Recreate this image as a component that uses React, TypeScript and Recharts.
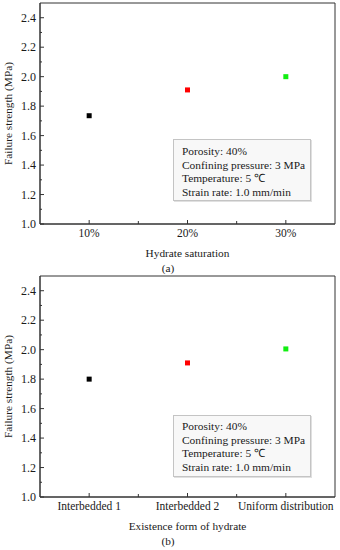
import { ScatterChart, Scatter, XAxis, YAxis, Cell, ReferenceArea } from "recharts"

// chart (a): failure strength vs hydrate saturation
const saturation = ["10%", "20%", "30%"]
const strengthBySaturation = [1.735, 1.91, 2.0]

// chart (b): failure strength vs existence form of hydrate
const forms = ["Interbedded 1", "Interbedded 2", "Uniform distribution"]
const strengthByForm = [1.8, 1.91, 2.005]

const pointColors = ["#000000", "#ff0000", "#11ee11"]
const yTicks = [1.0, 1.1, 1.2, 1.3, 1.4, 1.5, 1.6, 1.7, 1.8, 1.9, 2.0, 2.1, 2.2, 2.3, 2.4]
const xTicks = [1, 1.5, 2, 2.5, 3]
const conditions = ["Porosity: 40%", "Confining pressure: 3 MPa", "Temperature: 5 \u2103", "Strain rate: 1.0 mm/min"]

const AXIS = "#333"
const TEXT = "#1a1a1a"
const FONT = "'Liberation Serif', 'Times New Roman', serif"

function YTick({ x, y, payload }: any) {
  const v = payload.value as number
  const major = Math.round(v * 10) % 2 === 0
  return (
    <g>
      <line x1={x} x2={x + (major ? 4 : 2)} y1={y} y2={y} stroke={AXIS} />
      {major && (
        <text x={x - 4} y={y} dy="0.35em" textAnchor="end" fontSize={12} fill={TEXT} fontFamily={FONT}>
          {v.toFixed(1)}
        </text>
      )}
    </g>
  )
}

function makeXTick(labels: string[]) {
  return ({ x, y, payload }: any) => {
    const v = payload.value as number
    const major = Number.isInteger(v)
    return (
      <g>
        <line x1={x} x2={x} y1={y} y2={y - (major ? 4 : 3)} stroke={AXIS} />
        {major && (
          <text x={x} y={y + 13} textAnchor="middle" fontSize={11.5} fill={TEXT} fontFamily={FONT}>
            {labels[v - 1]}
          </text>
        )}
      </g>
    )
  }
}

function Square({ cx, cy, fill }: any) {
  return <rect x={cx - 2.5} y={cy - 2.5} width={5} height={5} fill={fill} />
}

function Panel({ labels, values, title, tag, top }: { labels: string[]; values: number[]; title: string; tag: string; top: number }) {
  const data = values.map((v, i) => ({ x: i + 1, y: v }))
  return (
    <div style={{ position: "absolute", left: 0, top, width: 340, height: 275 }}>
      <ScatterChart width={340} height={275} margin={{ top: top ? 1 : 3, right: 5, left: 0, bottom: 0 }}>
        <XAxis
          type="number"
          dataKey="x"
          domain={[0.5, 3.5]}
          ticks={xTicks}
          interval={0}
          height={top ? 53 : 51}
          axisLine={{ stroke: AXIS }}
          tickLine={false}
          tickSize={0}
          tickMargin={0}
          tick={makeXTick(labels)}
          label={({ viewBox }: any) => (
            <g fontFamily={FONT} fontSize={11.3} fill={TEXT}>
              <text x={viewBox.x + viewBox.width / 2} y={viewBox.y + 33} textAnchor="middle">{title}</text>
              <text x={168} y={viewBox.y + 48} textAnchor="middle">{tag}</text>
            </g>
          )}
        />
        <YAxis
          type="number"
          dataKey="y"
          domain={[1, 2.5]}
          ticks={yTicks}
          interval={0}
          width={40}
          axisLine={{ stroke: AXIS }}
          tickLine={false}
          tickSize={0}
          tickMargin={0}
          tick={YTick}
          label={({ viewBox }: any) => (
            <text
              x={8}
              y={viewBox.y + viewBox.height / 2}
              transform={`rotate(-90, 8, ${viewBox.y + viewBox.height / 2})`}
              dy="0.35em"
              textAnchor="middle"
              fontSize={11.3}
              fill={TEXT}
              fontFamily={FONT}
            >
              Failure strength (MPa)
            </text>
          )}
        />
        <ReferenceArea x1={0.5} x2={3.5} y1={1} y2={2.5} fill="none" stroke={AXIS} ifOverflow="visible" />
        <Scatter data={data} shape={<Square />} isAnimationActive={false}>
          {data.map((_, i) => (
            <Cell key={i} fill={pointColors[i]} />
          ))}
        </Scatter>
      </ScatterChart>
      <div
        style={{
          position: "absolute",
          left: 173,
          top: top ? 139.5 : 139.3,
          width: 138,
          height: 62,
          border: "1px solid #c4c4c4",
          background: "#f8f8f8",
          boxShadow: "1px 1px 0 #e0e0e0",
          fontFamily: FONT,
          fontSize: 11.4,
          lineHeight: "13.7px",
          color: TEXT,
          padding: "4.5px 0 0 8px",
          boxSizing: "border-box",
          whiteSpace: "nowrap",
        }}
      >
        {conditions.map((c) => (
          <div key={c}>{c}</div>
        ))}
      </div>
    </div>
  )
}

export default function App() {
  return (
    <div style={{ position: "absolute", left: 0, top: 0, width: 340, height: 550, background: "#fff" }}>
      <Panel labels={saturation} values={strengthBySaturation} title="Hydrate saturation" tag="(a)" top={0} />
      <Panel labels={forms} values={strengthByForm} title="Existence form of hydrate" tag="(b)" top={275} />
    </div>
  )
}
